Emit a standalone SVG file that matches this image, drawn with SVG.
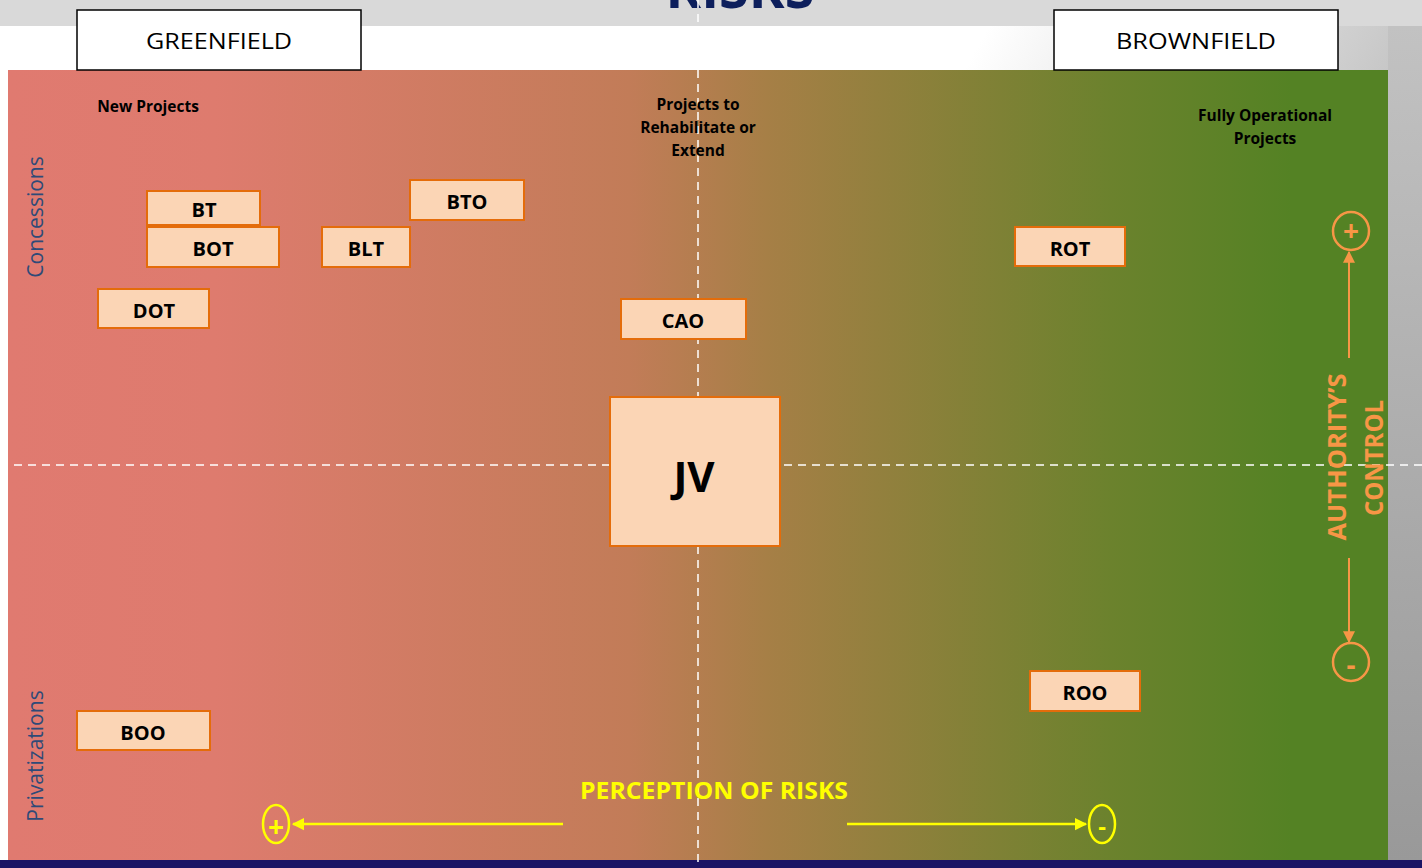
<svg xmlns="http://www.w3.org/2000/svg" width="1422" height="868" viewBox="0 0 1422 868">
  <defs>
    <linearGradient id="bg" x1="0" y1="0" x2="1" y2="0.35">
      <stop offset="0" stop-color="#ffffff"/>
      <stop offset="0.62" stop-color="#ffffff"/>
      <stop offset="0.9" stop-color="#c4c4c4"/>
      <stop offset="1" stop-color="#9a9a9a"/>
    </linearGradient>
    <linearGradient id="strip" x1="0" y1="0" x2="0" y2="1">
      <stop offset="0" stop-color="#c2c2c2"/>
      <stop offset="1" stop-color="#999999"/>
    </linearGradient>
    <linearGradient id="main" x1="0" y1="0" x2="1" y2="0">
      <stop offset="0" stop-color="#e07a70"/>
      <stop offset="0.15" stop-color="#de7b6e"/>
      <stop offset="0.45" stop-color="#c27c58"/>
      <stop offset="0.55" stop-color="#a67f46"/>
      <stop offset="0.8" stop-color="#6b822d"/>
      <stop offset="0.93" stop-color="#548224"/>
      <stop offset="1" stop-color="#548224"/>
    </linearGradient>
    <marker id="arrY" viewBox="0 0 10 10" refX="9" refY="5" markerWidth="5" markerHeight="5.5" orient="auto" markerUnits="strokeWidth">
      <path d="M0,0 L10,5 L0,10 z" fill="#ffff00"/>
    </marker>
    <marker id="arrO" viewBox="0 0 10 10" refX="9" refY="5" markerWidth="6" markerHeight="6" orient="auto" markerUnits="strokeWidth">
      <path d="M0,0 L10,5 L0,10 z" fill="#f79646"/>
    </marker>
    <style>
      .box rect { fill: #fbd5b5; stroke: #e46c0a; stroke-width: 2; }
      .box text { font-family: "Open Sans", "Liberation Sans", sans-serif; font-weight: bold; font-size: 20px; fill: #000; text-anchor: middle; dominant-baseline: central; }
      .hdr rect { fill: #fff; stroke: #000; stroke-width: 1.5; }
      .hdr text { font-family: "Open Sans", "Liberation Sans", sans-serif; font-size: 22px; fill: #000; text-anchor: middle; dominant-baseline: central; }
      .lbl { font-family: "Open Sans", "Liberation Sans", sans-serif; font-weight: bold; font-size: 15.5px; fill: #000; text-anchor: middle; }
      .side { font-family: "Open Sans", "Liberation Sans", sans-serif; font-size: 21px; fill: #2e4a78; text-anchor: middle; dominant-baseline: central; }
      .dash { stroke: #ffffff; stroke-width: 1.5; stroke-dasharray: 8 6; fill: none; }
      .orange { font-family: "Open Sans", "Liberation Sans", sans-serif; font-weight: bold; font-size: 25px; fill: #f79646; text-anchor: middle; dominant-baseline: central; }
      .osign { font-family: "Open Sans", "Liberation Sans", sans-serif; font-weight: bold; font-size: 28px; fill: #f79646; text-anchor: middle; dominant-baseline: central; }
      .yellow { font-family: "Open Sans", "Liberation Sans", sans-serif; font-weight: bold; font-size: 24px; fill: #ffff00; text-anchor: middle; dominant-baseline: central; }
    </style>
  </defs>

  <!-- background -->
  <rect x="0" y="26" width="1422" height="842" fill="url(#bg)"/>
  <rect x="1388" y="26" width="34" height="834" fill="url(#strip)"/>
  <rect x="0" y="0" width="1422" height="26" fill="#d9d9d9"/>
  <text x="740" y="8" font-family="Open Sans, Liberation Sans, sans-serif" font-weight="bold" font-size="54" fill="#0d1f5c" text-anchor="middle">RISKS</text>
  <rect x="8" y="70" width="1380" height="790" fill="url(#main)"/>
  <rect x="0" y="860" width="1422" height="8" fill="#1b1464"/>

  <!-- axes -->
  <g id="connectors">
    <line class="dash" x1="698" y1="0" x2="698" y2="868"/>
    <line class="dash" x1="0" y1="465" x2="1422" y2="465"/>
    <line x1="1349" y1="358" x2="1349" y2="252" stroke="#f79646" stroke-width="2" marker-end="url(#arrO)"/>
    <line x1="1349" y1="558" x2="1349" y2="642" stroke="#f79646" stroke-width="2" marker-end="url(#arrO)"/>
    <line x1="563" y1="824" x2="293" y2="824" stroke="#ffff00" stroke-width="2.5" marker-end="url(#arrY)"/>
    <line x1="847" y1="824" x2="1086" y2="824" stroke="#ffff00" stroke-width="2.5" marker-end="url(#arrY)"/>
  </g>

  <!-- header boxes -->
  <g id="greenfield" class="hdr">
    <rect x="77" y="10" width="284" height="60"/>
    <text x="219" y="40" textLength="146" lengthAdjust="spacingAndGlyphs">GREENFIELD</text>
  </g>
  <g id="brownfield" class="hdr">
    <rect x="1054" y="10" width="284" height="60"/>
    <text x="1196" y="40" textLength="160" lengthAdjust="spacingAndGlyphs">BROWNFIELD</text>
  </g>

  <!-- column labels -->
  <g id="col-new"><text class="lbl" x="148" y="112">New Projects</text></g>
  <g id="col-rehab">
    <text class="lbl" x="698" y="110">Projects to</text>
    <text class="lbl" x="698" y="133">Rehabilitate or</text>
    <text class="lbl" x="698" y="156">Extend</text>
  </g>
  <g id="col-full">
    <text class="lbl" x="1265" y="121">Fully Operational</text>
    <text class="lbl" x="1265" y="144">Projects</text>
  </g>

  <!-- side labels -->
  <g id="concessions"><text class="side" transform="translate(35,217) rotate(-90)">Concessions</text></g>
  <g id="privatizations"><text class="side" transform="translate(35,756) rotate(-90)">Privatizations</text></g>

  <!-- nodes -->
  <g id="bt" class="box"><rect x="147" y="191" width="113" height="34"/><text x="204" y="209">BT</text></g>
  <g id="bot" class="box"><rect x="147" y="227" width="132" height="40"/><text x="213" y="248">BOT</text></g>
  <g id="blt" class="box"><rect x="322" y="227" width="88" height="40"/><text x="366" y="248">BLT</text></g>
  <g id="bto" class="box"><rect x="410" y="180" width="114" height="40"/><text x="467" y="201">BTO</text></g>
  <g id="dot" class="box"><rect x="98" y="289" width="111" height="39"/><text x="154" y="310">DOT</text></g>
  <g id="cao" class="box"><rect x="621" y="299" width="125" height="40"/><text x="683" y="320">CAO</text></g>
  <g id="rot" class="box"><rect x="1015" y="227" width="110" height="39"/><text x="1070" y="248">ROT</text></g>
  <g id="jv" class="box"><rect x="610" y="397" width="170" height="149"/><text x="694" y="475" style="font-size:42px">JV</text></g>
  <g id="roo" class="box"><rect x="1030" y="671" width="110" height="40"/><text x="1085" y="692">ROO</text></g>
  <g id="boo" class="box"><rect x="77" y="711" width="133" height="39"/><text x="143" y="732">BOO</text></g>

  <!-- authority's control -->
  <g id="authority-control">
    <ellipse cx="1351" cy="231" rx="18" ry="19" fill="none" stroke="#f79646" stroke-width="2.5"/>
    <text class="osign" x="1351" y="230">+</text>
    <ellipse cx="1351" cy="662" rx="18" ry="19" fill="none" stroke="#f79646" stroke-width="2.5"/>
    <text class="osign" x="1351" y="664">-</text>
    <text class="orange" transform="translate(1336,457) rotate(-90)" textLength="167" lengthAdjust="spacingAndGlyphs">AUTHORITY’S</text>
    <text class="orange" transform="translate(1373,458) rotate(-90)" textLength="116" lengthAdjust="spacingAndGlyphs">CONTROL</text>
  </g>

  <!-- perception of risks -->
  <g id="perception">
    <text class="yellow" x="714" y="789" textLength="268" lengthAdjust="spacingAndGlyphs">PERCEPTION OF RISKS</text>
    <ellipse cx="276" cy="824" rx="13" ry="19" fill="none" stroke="#ffff00" stroke-width="2.5"/>
    <text class="yellow" x="276" y="826" style="font-size:28px">+</text>
    <ellipse cx="1102" cy="824" rx="13" ry="19" fill="none" stroke="#ffff00" stroke-width="2.5"/>
    <text class="yellow" x="1102" y="825">-</text>
  </g>
</svg>
